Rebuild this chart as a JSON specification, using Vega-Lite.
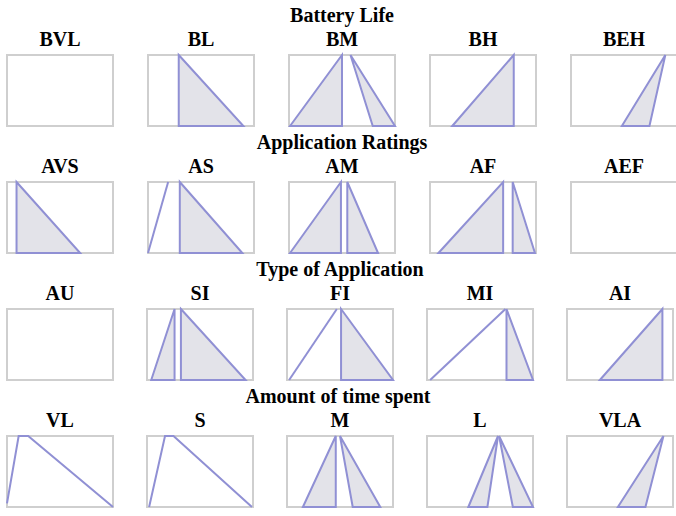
{
  "$schema": "https://vega.github.io/schema/vega-lite/v6.json",
  "padding": {"left": 2, "top": 6, "right": 0, "bottom": 0},
  "background": "white",
  "data": {"values": [
    {"row": "Battery Life", "panel": "BVL", "shape": "none", "kind": "none", "ord": 0, "x": 0, "y": 0},
    {"row": "Battery Life", "panel": "BL", "shape": "BL1", "kind": "poly", "ord": 1, "x": 0.29, "y": 1},
    {"row": "Battery Life", "panel": "BL", "shape": "BL1", "kind": "poly", "ord": 2, "x": 0.90, "y": 0},
    {"row": "Battery Life", "panel": "BL", "shape": "BL1", "kind": "poly", "ord": 3, "x": 0.29, "y": 0},
    {"row": "Battery Life", "panel": "BM", "shape": "BM1", "kind": "poly", "ord": 1, "x": 0.01, "y": 0},
    {"row": "Battery Life", "panel": "BM", "shape": "BM1", "kind": "poly", "ord": 2, "x": 0.50, "y": 1},
    {"row": "Battery Life", "panel": "BM", "shape": "BM1", "kind": "poly", "ord": 3, "x": 0.50, "y": 0},
    {"row": "Battery Life", "panel": "BM", "shape": "BM2", "kind": "poly", "ord": 1, "x": 0.58, "y": 1},
    {"row": "Battery Life", "panel": "BM", "shape": "BM2", "kind": "poly", "ord": 2, "x": 0.79, "y": 0},
    {"row": "Battery Life", "panel": "BM", "shape": "BM2", "kind": "poly", "ord": 3, "x": 1.0, "y": 0},
    {"row": "Battery Life", "panel": "BH", "shape": "BH1", "kind": "poly", "ord": 1, "x": 0.21, "y": 0},
    {"row": "Battery Life", "panel": "BH", "shape": "BH1", "kind": "poly", "ord": 2, "x": 0.79, "y": 1},
    {"row": "Battery Life", "panel": "BH", "shape": "BH1", "kind": "poly", "ord": 3, "x": 0.79, "y": 0},
    {"row": "Battery Life", "panel": "BEH", "shape": "BEH1", "kind": "poly", "ord": 1, "x": 0.48, "y": 0},
    {"row": "Battery Life", "panel": "BEH", "shape": "BEH1", "kind": "poly", "ord": 2, "x": 0.89, "y": 1},
    {"row": "Battery Life", "panel": "BEH", "shape": "BEH1", "kind": "poly", "ord": 3, "x": 0.74, "y": 0},

    {"row": "Application Ratings", "panel": "AVS", "shape": "AVS1", "kind": "poly", "ord": 1, "x": 0.09, "y": 1},
    {"row": "Application Ratings", "panel": "AVS", "shape": "AVS1", "kind": "poly", "ord": 2, "x": 0.69, "y": 0},
    {"row": "Application Ratings", "panel": "AVS", "shape": "AVS1", "kind": "poly", "ord": 3, "x": 0.09, "y": 0},
    {"row": "Application Ratings", "panel": "AS", "shape": "AS0", "kind": "open", "ord": 1, "x": 0.0, "y": 0},
    {"row": "Application Ratings", "panel": "AS", "shape": "AS0", "kind": "open", "ord": 2, "x": 0.19, "y": 1},
    {"row": "Application Ratings", "panel": "AS", "shape": "AS1", "kind": "poly", "ord": 1, "x": 0.30, "y": 1},
    {"row": "Application Ratings", "panel": "AS", "shape": "AS1", "kind": "poly", "ord": 2, "x": 0.89, "y": 0},
    {"row": "Application Ratings", "panel": "AS", "shape": "AS1", "kind": "poly", "ord": 3, "x": 0.30, "y": 0},
    {"row": "Application Ratings", "panel": "AM", "shape": "AM1", "kind": "poly", "ord": 1, "x": 0.01, "y": 0},
    {"row": "Application Ratings", "panel": "AM", "shape": "AM1", "kind": "poly", "ord": 2, "x": 0.49, "y": 1},
    {"row": "Application Ratings", "panel": "AM", "shape": "AM1", "kind": "poly", "ord": 3, "x": 0.49, "y": 0},
    {"row": "Application Ratings", "panel": "AM", "shape": "AM2", "kind": "poly", "ord": 1, "x": 0.55, "y": 1},
    {"row": "Application Ratings", "panel": "AM", "shape": "AM2", "kind": "poly", "ord": 2, "x": 0.84, "y": 0},
    {"row": "Application Ratings", "panel": "AM", "shape": "AM2", "kind": "poly", "ord": 3, "x": 0.55, "y": 0},
    {"row": "Application Ratings", "panel": "AF", "shape": "AF1", "kind": "poly", "ord": 1, "x": 0.08, "y": 0},
    {"row": "Application Ratings", "panel": "AF", "shape": "AF1", "kind": "poly", "ord": 2, "x": 0.69, "y": 1},
    {"row": "Application Ratings", "panel": "AF", "shape": "AF1", "kind": "poly", "ord": 3, "x": 0.69, "y": 0},
    {"row": "Application Ratings", "panel": "AF", "shape": "AF2", "kind": "poly", "ord": 1, "x": 0.78, "y": 1},
    {"row": "Application Ratings", "panel": "AF", "shape": "AF2", "kind": "poly", "ord": 2, "x": 0.99, "y": 0},
    {"row": "Application Ratings", "panel": "AF", "shape": "AF2", "kind": "poly", "ord": 3, "x": 0.78, "y": 0},
    {"row": "Application Ratings", "panel": "AEF", "shape": "none", "kind": "none", "ord": 0, "x": 0, "y": 0},

    {"row": "Type of Application", "panel": "AU", "shape": "none", "kind": "none", "ord": 0, "x": 0, "y": 0},
    {"row": "Type of Application", "panel": "SI", "shape": "SI1", "kind": "poly", "ord": 1, "x": 0.04, "y": 0},
    {"row": "Type of Application", "panel": "SI", "shape": "SI1", "kind": "poly", "ord": 2, "x": 0.26, "y": 1},
    {"row": "Type of Application", "panel": "SI", "shape": "SI1", "kind": "poly", "ord": 3, "x": 0.26, "y": 0},
    {"row": "Type of Application", "panel": "SI", "shape": "SI2", "kind": "poly", "ord": 1, "x": 0.32, "y": 1},
    {"row": "Type of Application", "panel": "SI", "shape": "SI2", "kind": "poly", "ord": 2, "x": 0.93, "y": 0},
    {"row": "Type of Application", "panel": "SI", "shape": "SI2", "kind": "poly", "ord": 3, "x": 0.32, "y": 0},
    {"row": "Type of Application", "panel": "FI", "shape": "FI0", "kind": "open", "ord": 1, "x": 0.02, "y": 0},
    {"row": "Type of Application", "panel": "FI", "shape": "FI0", "kind": "open", "ord": 2, "x": 0.47, "y": 1},
    {"row": "Type of Application", "panel": "FI", "shape": "FI1", "kind": "poly", "ord": 1, "x": 0.51, "y": 1},
    {"row": "Type of Application", "panel": "FI", "shape": "FI1", "kind": "poly", "ord": 2, "x": 1.0, "y": 0},
    {"row": "Type of Application", "panel": "FI", "shape": "FI1", "kind": "poly", "ord": 3, "x": 0.51, "y": 0},
    {"row": "Type of Application", "panel": "MI", "shape": "MI0", "kind": "open", "ord": 1, "x": 0.03, "y": 0},
    {"row": "Type of Application", "panel": "MI", "shape": "MI0", "kind": "open", "ord": 2, "x": 0.74, "y": 1},
    {"row": "Type of Application", "panel": "MI", "shape": "MI1", "kind": "poly", "ord": 1, "x": 0.75, "y": 1},
    {"row": "Type of Application", "panel": "MI", "shape": "MI1", "kind": "poly", "ord": 2, "x": 1.0, "y": 0},
    {"row": "Type of Application", "panel": "MI", "shape": "MI1", "kind": "poly", "ord": 3, "x": 0.75, "y": 0},
    {"row": "Type of Application", "panel": "AI", "shape": "AI1", "kind": "poly", "ord": 1, "x": 0.31, "y": 0},
    {"row": "Type of Application", "panel": "AI", "shape": "AI1", "kind": "poly", "ord": 2, "x": 0.90, "y": 1},
    {"row": "Type of Application", "panel": "AI", "shape": "AI1", "kind": "poly", "ord": 3, "x": 0.90, "y": 0},

    {"row": "Amount of time spent", "panel": "VL", "shape": "VL0", "kind": "open", "ord": 1, "x": 0.0, "y": 0.05},
    {"row": "Amount of time spent", "panel": "VL", "shape": "VL0", "kind": "open", "ord": 2, "x": 0.11, "y": 1},
    {"row": "Amount of time spent", "panel": "VL", "shape": "VL0", "kind": "open", "ord": 3, "x": 0.20, "y": 1},
    {"row": "Amount of time spent", "panel": "VL", "shape": "VL0", "kind": "open", "ord": 4, "x": 1.0, "y": 0},
    {"row": "Amount of time spent", "panel": "S", "shape": "S0", "kind": "open", "ord": 1, "x": 0.02, "y": 0},
    {"row": "Amount of time spent", "panel": "S", "shape": "S0", "kind": "open", "ord": 2, "x": 0.17, "y": 1},
    {"row": "Amount of time spent", "panel": "S", "shape": "S0", "kind": "open", "ord": 3, "x": 0.25, "y": 1},
    {"row": "Amount of time spent", "panel": "S", "shape": "S0", "kind": "open", "ord": 4, "x": 0.99, "y": 0},
    {"row": "Amount of time spent", "panel": "M", "shape": "M1", "kind": "poly", "ord": 1, "x": 0.15, "y": 0},
    {"row": "Amount of time spent", "panel": "M", "shape": "M1", "kind": "poly", "ord": 2, "x": 0.46, "y": 1},
    {"row": "Amount of time spent", "panel": "M", "shape": "M1", "kind": "poly", "ord": 3, "x": 0.46, "y": 0},
    {"row": "Amount of time spent", "panel": "M", "shape": "M2", "kind": "poly", "ord": 1, "x": 0.50, "y": 1},
    {"row": "Amount of time spent", "panel": "M", "shape": "M2", "kind": "poly", "ord": 2, "x": 0.62, "y": 0},
    {"row": "Amount of time spent", "panel": "M", "shape": "M2", "kind": "poly", "ord": 3, "x": 0.88, "y": 0},
    {"row": "Amount of time spent", "panel": "L", "shape": "L1", "kind": "poly", "ord": 1, "x": 0.39, "y": 0},
    {"row": "Amount of time spent", "panel": "L", "shape": "L1", "kind": "poly", "ord": 2, "x": 0.67, "y": 1},
    {"row": "Amount of time spent", "panel": "L", "shape": "L1", "kind": "poly", "ord": 3, "x": 0.57, "y": 0},
    {"row": "Amount of time spent", "panel": "L", "shape": "L2", "kind": "poly", "ord": 1, "x": 0.68, "y": 1},
    {"row": "Amount of time spent", "panel": "L", "shape": "L2", "kind": "poly", "ord": 2, "x": 0.81, "y": 0},
    {"row": "Amount of time spent", "panel": "L", "shape": "L2", "kind": "poly", "ord": 3, "x": 1.0, "y": 0},
    {"row": "Amount of time spent", "panel": "VLA", "shape": "VLA1", "kind": "poly", "ord": 1, "x": 0.48, "y": 0},
    {"row": "Amount of time spent", "panel": "VLA", "shape": "VLA1", "kind": "poly", "ord": 2, "x": 0.91, "y": 1},
    {"row": "Amount of time spent", "panel": "VLA", "shape": "VLA1", "kind": "poly", "ord": 3, "x": 0.74, "y": 0}
  ]},
  "spacing": 2,
  "vconcat": [
    {
      "transform": [{"filter": "datum.row === 'Battery Life'"}],
      "title": {"text": "Battery Life"},
      "facet": {"column": {"field": "panel", "sort": ["BVL", "BL", "BM", "BH", "BEH"], "title": null}},
      "spacing": 26,
      "spec": {"width": 106, "height": 71, "layer": [
        {"transform": [{"filter": "datum.kind === 'poly'"}],
         "mark": {"type": "line", "interpolate": "linear-closed", "fill": "#e3e3e9", "stroke": "#9090d4", "strokeWidth": 2},
         "encoding": {"x": {"field": "x", "type": "quantitative", "scale": {"domain": [0, 1]}, "axis": null},
                      "y": {"field": "y", "type": "quantitative", "scale": {"domain": [0, 1]}, "axis": null},
                      "detail": {"field": "shape"}, "order": {"field": "ord"}}},
        {"transform": [{"filter": "datum.kind === 'open'"}],
         "mark": {"type": "line", "stroke": "#9090d4", "strokeWidth": 2},
         "encoding": {"x": {"field": "x", "type": "quantitative", "scale": {"domain": [0, 1]}, "axis": null},
                      "y": {"field": "y", "type": "quantitative", "scale": {"domain": [0, 1]}, "axis": null},
                      "detail": {"field": "shape"}, "order": {"field": "ord"}}}
      ]}
    },
    {
      "transform": [{"filter": "datum.row === 'Application Ratings'"}],
      "title": {"text": "Application Ratings"},
      "facet": {"column": {"field": "panel", "sort": ["AVS", "AS", "AM", "AF", "AEF"], "title": null}},
      "spacing": 26,
      "spec": {"width": 106, "height": 71, "layer": [
        {"transform": [{"filter": "datum.kind === 'poly'"}],
         "mark": {"type": "line", "interpolate": "linear-closed", "fill": "#e3e3e9", "stroke": "#9090d4", "strokeWidth": 2},
         "encoding": {"x": {"field": "x", "type": "quantitative", "scale": {"domain": [0, 1]}, "axis": null},
                      "y": {"field": "y", "type": "quantitative", "scale": {"domain": [0, 1]}, "axis": null},
                      "detail": {"field": "shape"}, "order": {"field": "ord"}}},
        {"transform": [{"filter": "datum.kind === 'open'"}],
         "mark": {"type": "line", "stroke": "#9090d4", "strokeWidth": 2},
         "encoding": {"x": {"field": "x", "type": "quantitative", "scale": {"domain": [0, 1]}, "axis": null},
                      "y": {"field": "y", "type": "quantitative", "scale": {"domain": [0, 1]}, "axis": null},
                      "detail": {"field": "shape"}, "order": {"field": "ord"}}}
      ]}
    },
    {
      "transform": [{"filter": "datum.row === 'Type of Application'"}],
      "title": {"text": "Type of Application"},
      "facet": {"column": {"field": "panel", "sort": ["AU", "SI", "FI", "MI", "AI"], "title": null}},
      "spacing": 26,
      "spec": {"width": 106, "height": 71, "layer": [
        {"transform": [{"filter": "datum.kind === 'poly'"}],
         "mark": {"type": "line", "interpolate": "linear-closed", "fill": "#e3e3e9", "stroke": "#9090d4", "strokeWidth": 2},
         "encoding": {"x": {"field": "x", "type": "quantitative", "scale": {"domain": [0, 1]}, "axis": null},
                      "y": {"field": "y", "type": "quantitative", "scale": {"domain": [0, 1]}, "axis": null},
                      "detail": {"field": "shape"}, "order": {"field": "ord"}}},
        {"transform": [{"filter": "datum.kind === 'open'"}],
         "mark": {"type": "line", "stroke": "#9090d4", "strokeWidth": 2},
         "encoding": {"x": {"field": "x", "type": "quantitative", "scale": {"domain": [0, 1]}, "axis": null},
                      "y": {"field": "y", "type": "quantitative", "scale": {"domain": [0, 1]}, "axis": null},
                      "detail": {"field": "shape"}, "order": {"field": "ord"}}}
      ]}
    },
    {
      "transform": [{"filter": "datum.row === 'Amount of time spent'"}],
      "title": {"text": "Amount of time spent"},
      "facet": {"column": {"field": "panel", "sort": ["VL", "S", "M", "L", "VLA"], "title": null}},
      "spacing": 26,
      "spec": {"width": 106, "height": 71, "layer": [
        {"transform": [{"filter": "datum.kind === 'poly'"}],
         "mark": {"type": "line", "interpolate": "linear-closed", "fill": "#e3e3e9", "stroke": "#9090d4", "strokeWidth": 2},
         "encoding": {"x": {"field": "x", "type": "quantitative", "scale": {"domain": [0, 1]}, "axis": null},
                      "y": {"field": "y", "type": "quantitative", "scale": {"domain": [0, 1]}, "axis": null},
                      "detail": {"field": "shape"}, "order": {"field": "ord"}}},
        {"transform": [{"filter": "datum.kind === 'open'"}],
         "mark": {"type": "line", "stroke": "#9090d4", "strokeWidth": 2},
         "encoding": {"x": {"field": "x", "type": "quantitative", "scale": {"domain": [0, 1]}, "axis": null},
                      "y": {"field": "y", "type": "quantitative", "scale": {"domain": [0, 1]}, "axis": null},
                      "detail": {"field": "shape"}, "order": {"field": "ord"}}}
      ]}
    }
  ],
  "config": {
    "font": "Liberation Serif",
    "view": {"stroke": "#cfcfcf", "strokeWidth": 2},
    "title": {"font": "Liberation Serif", "fontSize": 20, "fontWeight": "bold", "color": "#000000", "anchor": "middle", "offset": 4},
    "header": {"labelFont": "Liberation Serif", "labelFontSize": 20, "labelFontWeight": "bold", "labelColor": "#000000", "labelPadding": 0}
  }
}
